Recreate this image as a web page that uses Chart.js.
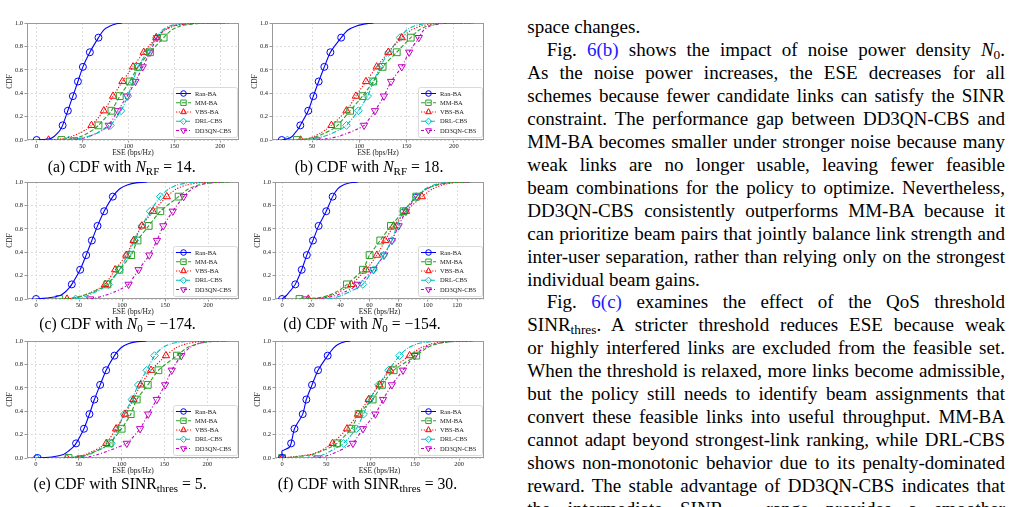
<!DOCTYPE html>
<html>
<head>
<meta charset="utf-8">
<script src="https://cdn.jsdelivr.net/npm/chart.js@4.4.1/dist/chart.umd.min.js"></script>
<style>
body{margin:0;width:1032px;height:507px;overflow:hidden;background:#fff;position:relative;font-family:"Liberation Serif","Times New Roman",serif;color:#000;}
canvas{position:absolute;}
.cap{position:absolute;font-size:15.7px;line-height:15.7px;white-space:nowrap;transform:translateX(-50%);}
sub{font-size:70%;vertical-align:-0.25em;line-height:0;}
#txt{position:absolute;left:527.3px;top:16.4px;width:477.7px;font-size:19px;line-height:22.93px;}
.ln{height:22.93px;text-align:justify;text-align-last:justify;}
.ln.l{text-align-last:left;}
.ind{padding-left:19.4px;}
.ref{color:#1a1aff;}
</style>
</head>
<body>
<canvas id="cA"></canvas>
<canvas id="cB"></canvas>
<canvas id="cC"></canvas>
<canvas id="cD"></canvas>
<canvas id="cE"></canvas>
<canvas id="cF"></canvas>

<div class="cap" style="left:121.7px;top:158.5px">(a) CDF with <i>N</i><sub>RF</sub> = 14.</div>
<div class="cap" style="left:369px;top:158.5px">(b) CDF with <i>N</i><sub>RF</sub> = 18.</div>
<div class="cap" style="left:117.5px;top:315.9px">(c) CDF with <i>N</i><sub>0</sub> = &minus;174.</div>
<div class="cap" style="left:362px;top:315.9px">(d) CDF with <i>N</i><sub>0</sub> = &minus;154.</div>
<div class="cap" style="left:120px;top:475.9px">(e) CDF with SINR<sub>thres</sub> = 5.</div>
<div class="cap" style="left:367.5px;top:475.9px">(f) CDF with SINR<sub>thres</sub> = 30.</div>

<div id="txt">
<div class="ln l">space changes.</div>
<div class="ln ind">Fig. <span class="ref">6(b)</span> shows the impact of noise power density <i>N</i><sub>0</sub>.</div>
<div class="ln">As the noise power increases, the ESE decreases for all</div>
<div class="ln">schemes because fewer candidate links can satisfy the SINR</div>
<div class="ln">constraint. The performance gap between DD3QN-CBS and</div>
<div class="ln">MM-BA becomes smaller under stronger noise because many</div>
<div class="ln">weak links are no longer usable, leaving fewer feasible</div>
<div class="ln">beam combinations for the policy to optimize. Nevertheless,</div>
<div class="ln">DD3QN-CBS consistently outperforms MM-BA because it</div>
<div class="ln">can prioritize beam pairs that jointly balance link strength and</div>
<div class="ln">inter-user separation, rather than relying only on the strongest</div>
<div class="ln l">individual beam gains.</div>
<div class="ln ind">Fig. <span class="ref">6(c)</span> examines the effect of the QoS threshold</div>
<div class="ln">SINR<sub>thres</sub>. A stricter threshold reduces ESE because weak</div>
<div class="ln">or highly interfered links are excluded from the feasible set.</div>
<div class="ln">When the threshold is relaxed, more links become admissible,</div>
<div class="ln">but the policy still needs to identify beam assignments that</div>
<div class="ln">convert these feasible links into useful throughput. MM-BA</div>
<div class="ln">cannot adapt beyond strongest-link ranking, while DRL-CBS</div>
<div class="ln">shows non-monotonic behavior due to its penalty-dominated</div>
<div class="ln">reward. The stable advantage of DD3QN-CBS indicates that</div>
<div class="ln">the intermediate SINR<sub>thres</sub> range provides a smoother</div>
</div>

<script>
// CDF levels shared by every curve, markers sit on the 1/8 steps
const levels = [0, 0.01, 0.03, 0.06, 0.09, 0.125, 0.25, 0.375, 0.5, 0.625, 0.75, 0.875, 0.94, 0.975, 0.995, 1];
const markLevels = [0, 0.125, 0.25, 0.375, 0.5, 0.625, 0.75, 0.875];
const schemes = ['Ran-BA', 'MM-BA', 'VBS-BA', 'DRL-CBS', 'DD3QN-CBS'];

const xTicksWide = [0, 50, 100, 150, 200];
const xTicksB = [50, 100, 150, 200];
const xTicksD = [0, 20, 40, 60, 80, 100, 120];
const yTicks = [0, 0.2, 0.4, 0.6, 0.8, 1.0];

// ESE (bps/Hz) at each CDF level
// (a) N_RF = 14
const ranA = [0, 14, 19, 23, 26, 28.3, 34, 39.5, 45, 50.4, 58, 67.4, 73, 80, 88, 93];
const mmA = [27, 38, 48, 56, 62, 67.4, 81.5, 90.6, 101.4, 110.5, 123.5, 138.4, 147, 157, 175, 205];
const vbsA = [13, 28, 38, 47, 54, 59.8, 73.2, 83.3, 93.5, 105, 116.7, 130.4, 140, 150, 168, 200];
const drlA = [35, 45, 56, 66, 73, 80.4, 92, 99.3, 105, 110.5, 120.3, 130.4, 137, 145, 158, 190];
const ddA = [41, 48, 57, 66, 72, 78.6, 88.4, 98.6, 107.6, 115.6, 123.5, 131.2, 139, 148, 168, 210];
// (b) N_RF = 18
const ranB = [18, 24, 29, 32, 35, 37.6, 46, 51.4, 57, 63, 69.4, 80.8, 88, 97, 108, 115];
const mmB = [34, 45, 55, 64, 71, 77, 90.3, 103.4, 114.7, 124.6, 139.5, 154.3, 163, 172, 185, 221];
const vbsB = [38, 45, 52, 59, 65, 70.5, 86.4, 96.3, 107, 118.3, 130.6, 144.8, 155, 165, 180, 210];
const drlB = [24, 50, 62, 72, 80, 86.4, 99, 108.7, 115, 121.8, 131, 143, 150, 158, 170, 200];
const ddB = [55, 65, 78, 88, 97, 105, 116.5, 126, 133.5, 144.8, 152.6, 162.8, 168, 175, 188, 218];
// (c) N0 = -174
const ranC = [0, 15, 28, 34, 38, 41.6, 51.3, 58.3, 64.9, 71.5, 79.2, 89.3, 97, 106, 118, 129];
const mmC = [27, 45, 55, 66, 75, 83, 97, 110.7, 118, 131, 144.5, 165.8, 177, 189, 205, 225];
const vbsC = [36, 45, 55, 65, 73, 80.4, 92, 104.9, 113.4, 123, 136, 152, 163, 175, 192, 215];
const drlC = [46, 52, 60, 69, 77, 84.3, 97, 106.4, 114.6, 123, 132.8, 144.5, 154, 164, 180, 205];
const ddC = [63, 70, 80, 91, 100, 107.6, 119.2, 131.7, 140.6, 148, 159, 171.6, 181, 191, 205, 222];
// (d) N0 = -154
const ranD = [0, 1, 3, 5, 7, 9.1, 13.5, 17, 21.2, 25.1, 30.3, 34.7, 38, 42, 48, 52];
const mmD = [12, 25, 32, 37, 41, 44.5, 55.4, 60, 67.3, 74.6, 83.3, 92, 99, 106, 115, 130];
const vbsD = [18, 28, 34, 39, 43.5, 47.5, 57.7, 65, 70.7, 76.4, 85, 95.8, 103, 110, 118, 128];
const drlD = [31, 36, 41, 46, 51, 55.4, 62.7, 69.6, 75.3, 78.7, 83.3, 92, 98, 104, 112, 125];
const ddD = [16, 30, 37, 43, 48, 51.8, 62.7, 70, 75.3, 79.9, 84.9, 92.4, 99, 106, 116, 130];
// (e) SINR_thres = 5
const ranE = [2, 20, 32, 38, 43, 46.8, 56, 62.4, 68.2, 74.9, 81.9, 91.6, 99, 107, 118, 129];
const mmE = [38, 50, 60, 70, 79, 86, 100, 110.6, 117.6, 130.5, 142.9, 164.5, 176, 188, 203, 225];
const vbsE = [36, 48, 58, 67, 75, 82, 93.5, 104, 113.7, 122.3, 134.3, 151.7, 163, 175, 192, 215];
const drlE = [0, 52, 62, 71, 80, 88, 95, 103, 112, 119.5, 129.3, 138.4, 147, 157, 172, 200];
const ddE = [52, 62, 72, 84, 95, 106, 121.5, 131, 141, 150.7, 158.5, 169.6, 179, 188, 202, 222];
// (f) SINR_thres = 30
const ranF = [0, 0, 0, 0, 8, 10.2, 14, 23.3, 27.4, 33.8, 40.6, 51.5, 58, 64, 72, 77];
const mmF = [0, 15, 35, 45, 54, 62, 78.2, 86.5, 102.3, 112.8, 126, 151.5, 163, 175, 192, 218];
const vbsF = [0, 12, 32, 43, 50, 57, 73.3, 85.7, 97.7, 110, 122, 144, 156, 168, 185, 210];
const drlF = [33, 40, 47, 55, 62, 69.5, 83.8, 92, 98.9, 109, 120.3, 132.7, 142, 152, 168, 200];
const ddF = [40, 46, 55, 64, 72, 80, 91.4, 105.3, 114, 124, 136.5, 149.6, 160, 172, 190, 215];

const styles = [
    { color: '#0000ff', dash: [], point: 'circle', r: 3.5, rot: 0 },
    { color: '#2ca02c', dash: [4, 2], point: 'rect', r: 4.8, rot: 0 },
    { color: '#ff0000', dash: [1.2, 1.6], point: 'triangle', r: 4.2, rot: 0 },
    { color: '#00bfbf', dash: [5, 1.5, 1, 1.5], point: 'rectRot', r: 3.9, rot: 0 },
    { color: '#bf00bf', dash: [3, 2, 1, 2], point: 'triangle', r: 4.2, rot: 180 }
];

const panels = [
    { id: 'cA', box: [27, 23, 239, 140], xr: [-10.5, 220.5], ticks: xTicksWide, series: [ranA, mmA, vbsA, drlA, ddA] },
    { id: 'cB', box: [272, 23, 484, 140], xr: [7.7, 231.7], ticks: xTicksB, series: [ranB, mmB, vbsB, drlB, ddB] },
    { id: 'cC', box: [27, 182, 239, 299], xr: [-10.5, 236], ticks: xTicksWide, series: [ranC, mmC, vbsC, drlC, ddC] },
    { id: 'cD', box: [275, 182, 484, 299], xr: [-4.8, 138.4], ticks: xTicksD, series: [ranD, mmD, vbsD, drlD, ddD] },
    { id: 'cE', box: [27, 341, 239, 458], xr: [-10.5, 237], ticks: xTicksWide, series: [ranE, mmE, vbsE, drlE, ddE] },
    { id: 'cF', box: [275, 341, 484, 458], xr: [-8, 228], ticks: xTicksWide, series: [ranF, mmF, vbsF, drlF, ddF] }
];

const serif = '"Liberation Serif", "Times New Roman", serif';
Chart.defaults.font.family = serif;

function drawMark(ctx, kind, rot, x, y, r) {
    ctx.beginPath();
    if (kind === 'circle') {
        ctx.arc(x, y, r, 0, Math.PI * 2);
    } else if (kind === 'rect') {
        const s = r * Math.SQRT1_2;
        ctx.rect(x - s, y - s, 2 * s, 2 * s);
    } else if (kind === 'rectRot') {
        ctx.moveTo(x - r, y); ctx.lineTo(x, y - r); ctx.lineTo(x + r, y); ctx.lineTo(x, y + r);
        ctx.closePath();
    } else {
        let a = rot * Math.PI / 180;
        ctx.moveTo(x + Math.sin(a) * r, y - Math.cos(a) * r);
        for (let k = 0; k < 2; k++) {
            a += Math.PI * 2 / 3;
            ctx.lineTo(x + Math.sin(a) * r, y - Math.cos(a) * r);
        }
        ctx.closePath();
    }
    ctx.stroke();
}

// box round the plot area, like matplotlib spines
const framePlugin = {
    id: 'frame',
    beforeDatasetsDraw(chart) {
        const { ctx, chartArea: a } = chart;
        ctx.save();
        ctx.strokeStyle = '#9a9a9a';
        ctx.lineWidth = 1;
        ctx.strokeRect(a.left + 0.5, a.top + 0.5, a.width - 1, a.height - 1);
        ctx.restore();
    }
};

// legend inside the lower right corner
const legendPlugin = {
    id: 'innerLegend',
    afterDatasetsDraw(chart) {
        const { ctx, chartArea: a } = chart;
        const w = 64, h = 50;
        const x0 = a.right - w - 2, y0 = a.bottom - h - 3;
        ctx.save();
        ctx.fillStyle = 'rgba(255,255,255,0.9)';
        ctx.strokeStyle = '#d0d0d0';
        ctx.lineWidth = 0.8;
        ctx.beginPath();
        if (ctx.roundRect) ctx.roundRect(x0 + 0.5, y0 + 0.5, w, h, 2); else ctx.rect(x0 + 0.5, y0 + 0.5, w, h);
        ctx.fill();
        ctx.stroke();
        chart.data.datasets.forEach((ds, i) => {
            const st = styles[i];
            const y = y0 + 6.5 + i * 9.25;
            ctx.strokeStyle = st.color;
            ctx.lineWidth = 1;
            ctx.setLineDash(st.dash);
            ctx.beginPath();
            ctx.moveTo(x0 + 3, y);
            ctx.lineTo(x0 + 18, y);
            ctx.stroke();
            ctx.setLineDash([]);
            drawMark(ctx, st.point, st.rot, x0 + 10.5, y, st.r * 0.8);
            ctx.fillStyle = '#222';
            ctx.font = '6.5px ' + serif;
            ctx.textBaseline = 'middle';
            ctx.fillText(ds.label, x0 + 22, y + 0.5);
        });
        ctx.restore();
    }
};

function makeChart(p) {
    const cv = document.getElementById(p.id);
    const [l, t, r, b] = p.box;
    const w = r - l + 33, h = b - t + 28;
    cv.width = w;
    cv.height = h;
    cv.style.width = w + 'px';
    cv.style.height = h + 'px';
    cv.style.left = (l - 27) + 'px';
    cv.style.top = (t - 8) + 'px';

    const datasets = p.series.map((vals, i) => {
        const st = styles[i];
        return {
            label: schemes[i],
            data: vals.map((v, k) => ({ x: v, y: levels[k] })),
            showLine: true,
            borderColor: st.color,
            borderWidth: 1.1,
            borderDash: st.dash,
            tension: 0.2,
            pointStyle: st.point,
            pointRotation: st.rot,
            pointRadius: levels.map(lv => markLevels.includes(lv) ? st.r : 0),
            pointBorderWidth: 1,
            pointBorderColor: st.color,
            pointBackgroundColor: 'rgba(255,255,255,0)'
        };
    });

    new Chart(cv, {
        type: 'scatter',
        data: { datasets },
        options: {
            responsive: false,
            animation: false,
            devicePixelRatio: 1,
            layout: { padding: { top: 8, right: 6, left: 0, bottom: 0 } },
            plugins: { legend: { display: false }, tooltip: { enabled: false } },
            scales: {
                x: {
                    type: 'linear',
                    min: p.xr[0],
                    max: p.xr[1],
                    afterBuildTicks: s => { s.ticks = p.ticks.map(v => ({ value: v })); },
                    afterFit: s => { s.height = 20; },
                    ticks: { font: { size: 6.5 }, color: '#222', padding: 0, maxRotation: 0, includeBounds: false, callback: v => String(v) },
                    grid: { color: '#dedede', tickLength: 2.5, tickColor: '#999' },
                    border: { display: false, dash: [2, 2] },
                    title: { display: true, text: 'ESE (bps/Hz)', font: { size: 7.5 }, color: '#222', padding: { top: 0, bottom: 2 } }
                },
                y: {
                    min: 0,
                    max: 1,
                    afterBuildTicks: s => { s.ticks = yTicks.map(v => ({ value: v })); },
                    afterFit: s => { s.width = 27; },
                    ticks: { font: { size: 6.5 }, color: '#222', padding: 1.5, callback: v => v.toFixed(1) },
                    grid: { color: '#dedede', tickLength: 2.5, tickColor: '#999' },
                    border: { display: false, dash: [2, 2] },
                    title: { display: true, text: 'CDF', font: { size: 7.5 }, color: '#222', padding: { top: 5.5, bottom: 0 } }
                }
            }
        },
        plugins: [framePlugin, legendPlugin]
    });
}

panels.forEach(makeChart);
</script>
</body>
</html>
